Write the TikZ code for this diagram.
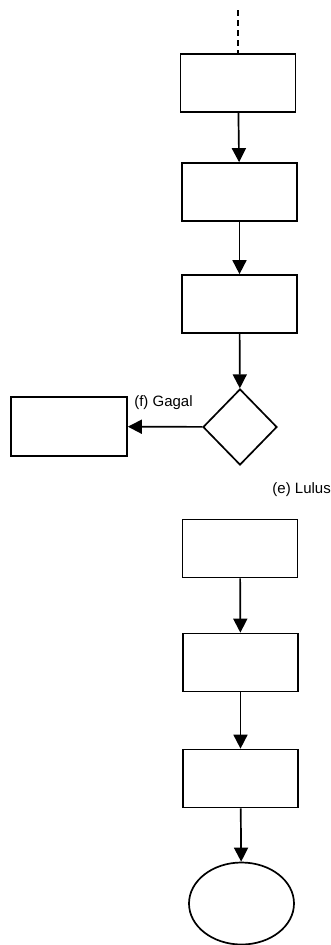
\documentclass[tikz,border=0pt]{standalone}
\usepackage{fontspec}
\setmainfont{Liberation Sans}
\usetikzlibrary{shapes.geometric,arrows.meta}

\tikzset{
  kotak/.style={draw, rectangle, line width=1.7pt, minimum width=115pt, minimum height=58pt, inner sep=0pt},
  keputusan/.style={draw, diamond, line width=1.7pt, minimum width=74pt, minimum height=76pt, inner sep=0pt},
  akhir/.style={draw, ellipse, line width=1.7pt, minimum width=105pt, minimum height=82pt, inner sep=0pt},
  panah/.style={line width=1.7pt, -{Triangle[length=14pt,width=14pt]}},
  label/.style={font=\fontsize{15}{18}\selectfont, inner sep=0pt}
}

\begin{document}
\begin{tikzpicture}[x=1pt,y=-1pt]
\useasboundingbox (0,0) rectangle (331,945);
\coordinate (awal) at (238,10);
\node (langkah1) [kotak] at (238,83) {};
\node (langkah2) [kotak] at (239.5,192) {};
\node (langkah3) [kotak] at (239.5,304) {};
\node (cek) [keputusan] at (240,427) {};
\node (gagal) [kotak, minimum width=116pt, minimum height=59pt] at (69,426.5) {};
\node (langkah4) [kotak] at (240,548.5) {};
\node (langkah5) [kotak] at (240.5,662.5) {};
\node (langkah6) [kotak] at (240.5,778.5) {};
\node (selesai) [akhir] at (241.5,903.5) {};
\node (tgagal) [label] at (163.5,403) {(f) Gagal};
\node (tlulus) [label, anchor=east] at (331,490) {(e) Lulus};

\draw [line width=1.7pt, dash pattern=on 6pt off 4pt] (awal) -- (langkah1.north);
\draw [panah] (langkah1) -- (langkah2);
\draw [panah] (langkah2) -- (langkah3);
\draw [panah] (langkah3) -- (cek);
\draw [panah] (cek) -- (gagal);
\draw [panah] (langkah4) -- (langkah5);
\draw [panah] (langkah5) -- (langkah6);
\draw [panah] (langkah6) -- (selesai);
\end{tikzpicture}
\end{document}
